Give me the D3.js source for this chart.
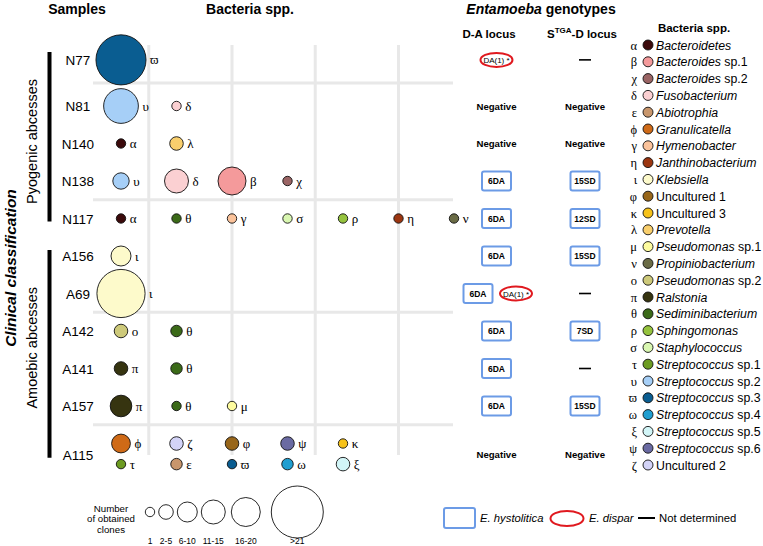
<!DOCTYPE html>
<html><head><meta charset="utf-8">
<script src="https://cdn.jsdelivr.net/npm/d3@7"></script>
<style>body{margin:0;background:#fff}svg{display:block}</style>
</head><body><svg id="c" width="763" height="546"></svg>
<script>
// ---------------- DATA ----------------
const samples = ["N77","N81","N140","N138","N117","A156","A69","A142","A141","A157","A115"];
const groups = ["Pyogenic abcesses","Amoebic abcesses"];
const groupFirst = ["N77","A156"];
const groupLast = ["N117","A115"];
const sampleTaxa = [
  ["ϖ"], ["υ","δ"], ["α","λ"], ["υ","δ","β","χ"],
  ["α","θ","γ","σ","ρ","η","ν"],
  ["ι"], ["ι"], ["ο","θ"], ["π","θ"], ["π","θ","μ"],
  ["ϕ","ζ","φ","ψ","κ","τ","ε","ϖ","ω","ξ"]
];
const sampleClones = [
  [29], [21,1], [1,3], [5,13,17,1],
  [1,1,1,1,1,1,1],
  [8], [28], [3,2], [3,2], [10,1,1],
  [7,3,3,3,1,1,2,1,2,3]
];
const taxaSymbols = ["α","β","χ","δ","ε","ϕ","γ","η","ι","φ","κ","λ","μ","ν","ο","π","θ","ρ","σ","τ","υ","ϖ","ω","ξ","ψ","ζ"];
const taxaNames = ["Bacteroidetes","Bacteroides sp.1","Bacteroides sp.2","Fusobacterium","Abiotrophia","Granulicatella","Hymenobacter","Janthinobacterium","Klebsiella","Uncultured 1","Uncultured 3","Prevotella","Pseudomonas sp.1","Propiniobacterium","Pseudomonas sp.2","Ralstonia","Sediminibacterium","Sphingomonas","Staphylococcus","Streptococcus sp.1","Streptococcus sp.2","Streptococcus sp.3","Streptococcus sp.4","Streptococcus sp.5","Streptococcus sp.6","Uncultured 2"];
const taxaColors = ["#3b0a0b","#f49a9b","#9a6464","#fbd0d2","#c8966c","#cf6a17","#fbc39b","#9b3510","#fdfacb","#98661a","#f6c21a","#f9cf6d","#fdfb9e","#6a6b45","#cdc97a","#363410","#3b6a18","#95c33e","#d9f7b1","#6c9b21","#a6cff7","#0a5d91","#1f9ed0","#d2f5f7","#6a6aa2","#d3d3f7"];
// genotypes: kind h = E. histolytica, d = E. dispar, neg = negative, nd = not determined
const daLabels = [["DA(1) *"],["Negative"],["Negative"],["6DA"],["6DA"],["6DA"],["6DA","DA(1) *"],["6DA"],["6DA"],["6DA"],["Negative"]];
const daKinds  = [["d"],["neg"],["neg"],["h"],["h"],["h"],["h","d"],["h"],["h"],["h"],["neg"]];
const stgaLabels = ["—","Negative","Negative","15SD","12SD","15SD","—","7SD","—","15SD","Negative"];
const stgaKinds  = ["nd","neg","neg","h","h","h","nd","h","nd","h","neg"];
const cloneBins = ["1","2-5","6-10","11-15","16-20",">21"];
const cloneBinMid = [1,3.5,8,13,18,30];

// ---------------- LAYOUT ----------------
const SANS = "'Liberation Sans', Arial, Helvetica, sans-serif";
const SERIF = "'Liberation Serif', 'Times New Roman', serif";
const svg = d3.select("#c");
const color = d3.scaleOrdinal(taxaSymbols, taxaColors);
const rScale = d3.scaleLinear().domain(cloneBinMid).range([4.7,7.3,10,12,14.5,26]);
const x = d3.scaleLinear().domain([0,6]).range([121,454]);
const rowScale = d3.scaleLinear().domain([0,8]).range([106,406]);
const slotOf = i => i === 0 ? -1.23 : i - 1;
const rowY = i => rowScale(slotOf(i));
const WRAP = 5; // A115 wraps into two lines
const lastIdx = samples.length - 1;
const bubbleY = (i, j) => i === lastIdx ? rowScale(9 + (j >= WRAP ? 0.55 : 0)) : rowY(i);
const bubbleCol = (i, j) => i === lastIdx ? j % WRAP : j;
const labelY = i => i === lastIdx ? rowScale(9.3) : rowY(i);

// grid
const gridG = svg.append("g").attr("stroke","#e8e8e8").attr("stroke-width",3);
[0.5,2,3.5,5].forEach(c => gridG.append("line").attr("x1",x(c)).attr("x2",x(c)).attr("y1",45).attr("y2",455));
[0,3,6].forEach(i => {
  const y = (rowY(i)+rowY(i+1))/2;
  gridG.append("line").attr("x1",93).attr("x2",453).attr("y1",y).attr("y2",y);
});
{ const y = (rowY(9)+bubbleY(lastIdx,0))/2;
  gridG.append("line").attr("x1",93).attr("x2",453).attr("y1",y).attr("y2",y); }

// headers
svg.append("text").attr("x",77).attr("y",14).attr("text-anchor","middle")
  .attr("font-family",SANS).attr("font-weight","bold").attr("font-size",14).text("Samples");
svg.append("text").attr("x",250).attr("y",14).attr("text-anchor","middle")
  .attr("font-family",SANS).attr("font-weight","bold").attr("font-size",14).text("Bacteria spp.");
{ const t = svg.append("text").attr("x",541).attr("y",14).attr("text-anchor","middle")
  .attr("font-family",SANS).attr("font-weight","bold").attr("font-size",14);
  t.append("tspan").attr("font-style","italic").text("Entamoeba");
  t.append("tspan").text(" genotypes"); }
svg.append("text").attr("x",489).attr("y",38).attr("text-anchor","middle")
  .attr("font-family",SANS).attr("font-weight","bold").attr("font-size",11.5).text("D-A locus");
{ const t = svg.append("text").attr("x",582).attr("y",38).attr("text-anchor","middle")
  .attr("font-family",SANS).attr("font-weight","bold").attr("font-size",11.5);
  t.append("tspan").text("S");
  t.append("tspan").attr("font-size",8).attr("dy",-5).text("TGA");
  t.append("tspan").attr("dy",5).text("-D locus"); }

// clinical classification
svg.append("text").attr("transform",`translate(15.5,268) rotate(-90)`).attr("text-anchor","middle")
  .attr("font-family",SANS).attr("font-weight","bold").attr("font-style","italic").attr("font-size",15.5)
  .text("Clinical classification");

// group bars and labels
groups.forEach((g, k) => {
  const i0 = samples.indexOf(groupFirst[k]), i1 = samples.indexOf(groupLast[k]);
  const top = k === 0 ? rowY(i0) - 8 : rowY(i0) - 6;
  const bot = labelY(i1) + 3;
  svg.append("line").attr("x1",49.5).attr("x2",49.5).attr("y1",top).attr("y2",bot)
    .attr("stroke","#000").attr("stroke-width",4);
  const cy = k === 0 ? (rowY(1)+rowY(3))/2 - 2 : (rowY(6)+rowY(9))/2 - 2;
  svg.append("text").attr("transform",`translate(37,${cy}) rotate(-90)`).attr("text-anchor","middle")
    .attr("font-family",SANS).attr("font-size",14.5).text(g);
});

// sample labels
svg.selectAll("text.sample").data(samples).join("text").attr("class","sample")
  .attr("x",78).attr("y",(d,i)=>labelY(i)+5).attr("text-anchor","middle")
  .attr("font-family",SANS).attr("font-size",13.5).text(d=>d);

// bubbles
const bubbles = [];
samples.forEach((s,i) => sampleTaxa[i].forEach((t,j) => bubbles.push({
  sym:t, n:sampleClones[i][j], cx:x(bubbleCol(i,j)), cy:bubbleY(i,j)
})));
const bg = svg.append("g");
bg.selectAll("circle").data(bubbles).join("circle")
  .attr("cx",d=>d.cx).attr("cy",d=>d.cy).attr("r",d=>rScale(d.n))
  .attr("fill",d=>color(d.sym)).attr("stroke","#111").attr("stroke-width",0.9);
bg.selectAll("text").data(bubbles).join("text")
  .attr("x",d=>d.cx+rScale(d.n)+4).attr("y",d=>d.cy+4.5)
  .attr("font-family",SERIF).attr("font-size",13).text(d=>d.sym);

// genotypes
const BLUE = "#6c9be6", RED = "#e0191f";
function geno(cx, cy, label, kind) {
  if (kind === "neg") {
    svg.append("text").attr("x",cx).attr("y",cy+3.5).attr("text-anchor","middle")
      .attr("font-family",SANS).attr("font-weight","bold").attr("font-size",9.6).text(label);
  } else if (kind === "nd") {
    svg.append("line").attr("x1",cx-6).attr("x2",cx+6).attr("y1",cy).attr("y2",cy)
      .attr("stroke","#000").attr("stroke-width",1.6);
  } else if (kind === "h") {
    svg.append("rect").attr("x",cx-14.5).attr("y",cy-9.5).attr("width",29).attr("height",19).attr("rx",2)
      .attr("fill","#fff").attr("stroke",BLUE).attr("stroke-width",2);
    svg.append("text").attr("x",cx).attr("y",cy+3).attr("text-anchor","middle")
      .attr("font-family",SANS).attr("font-weight","bold").attr("font-size",8.5).text(label);
  } else if (kind === "d") {
    svg.append("ellipse").attr("cx",cx).attr("cy",cy).attr("rx",16).attr("ry",7)
      .attr("fill","#fff").attr("stroke",RED).attr("stroke-width",2);
    svg.append("text").attr("x",cx).attr("y",cy+3).attr("text-anchor","middle")
      .attr("font-family",SANS).attr("font-size",8).text(label);
  }
}
const daX = 496.5, stX = 585;
samples.forEach((s,i) => {
  const cy = labelY(i);
  const n = daLabels[i].length;
  daLabels[i].forEach((lab,j) => geno(n === 1 ? daX : daX + (j === 0 ? -18.5 : 19.5), cy, lab, daKinds[i][j]));
  geno(stX, cy, stgaLabels[i], stgaKinds[i]);
});

// taxa legend
svg.append("text").attr("x",694).attr("y",32).attr("text-anchor","middle")
  .attr("font-family",SANS).attr("font-weight","bold").attr("font-size",11.5).text("Bacteria spp.");
const ly = d3.scaleLinear().domain([0,25]).range([45,465]);
const lg = svg.append("g").selectAll("g").data(taxaSymbols).join("g")
  .attr("transform",(d,i)=>`translate(0,${ly(i)})`);
lg.append("text").attr("x",637).attr("y",4.5).attr("text-anchor","end")
  .attr("font-family",SERIF).attr("font-size",12.5).text(d=>d);
lg.append("circle").attr("cx",648).attr("cy",0).attr("r",5)
  .attr("fill",d=>color(d)).attr("stroke","#111").attr("stroke-width",0.9);
lg.each(function(d,i){
  const name = taxaNames[i];
  const t = d3.select(this).append("text").attr("x",656).attr("y",4.5)
    .attr("font-family",SANS).attr("font-size",12.3);
  const m = name.match(/^(.*?)( sp\.\d)$/);
  if (name.startsWith("Uncultured")) t.text(name);
  else if (m) { t.append("tspan").attr("font-style","italic").text(m[1]); t.append("tspan").text(m[2]); }
  else t.attr("font-style","italic").text(name);
});

// size legend
["Number","of obtained","clones"].forEach((s,k) =>
  svg.append("text").attr("x",111).attr("y",511.5+k*10.5).attr("text-anchor","middle")
    .attr("font-family",SANS).attr("font-size",9.7).text(s));
const gaps = [0,4,4,4,6,11];
let cx = 150, prevR = 0;
cloneBins.forEach((b,k) => {
  const r = rScale(cloneBinMid[k]);
  if (k > 0) cx += prevR + gaps[k] + r;
  prevR = r;
  svg.append("circle").attr("cx",cx).attr("cy",512).attr("r",r)
    .attr("fill","#fff").attr("stroke","#111").attr("stroke-width",0.9);
  svg.append("text").attr("x",cx).attr("y",544).attr("text-anchor","middle")
    .attr("font-family",SANS).attr("font-size",8.5).text(b);
});

// species legend
svg.append("rect").attr("x",444).attr("y",508).attr("width",31).attr("height",20).attr("rx",2)
  .attr("fill","#fff").attr("stroke",BLUE).attr("stroke-width",2);
svg.append("text").attr("x",480).attr("y",522).attr("font-family",SANS).attr("font-style","italic")
  .attr("font-size",11.3).text("E. hystolitica");
svg.append("ellipse").attr("cx",567).attr("cy",518.5).attr("rx",16.5).attr("ry",7.5)
  .attr("fill","#fff").attr("stroke",RED).attr("stroke-width",2);
svg.append("text").attr("x",589).attr("y",522).attr("font-family",SANS).attr("font-style","italic")
  .attr("font-size",11.3).text("E. dispar");
svg.append("line").attr("x1",638).attr("x2",655).attr("y1",518).attr("y2",518)
  .attr("stroke","#000").attr("stroke-width",2);
svg.append("text").attr("x",659).attr("y",522).attr("font-family",SANS)
  .attr("font-size",11.3).text("Not determined");
</script></body></html>
